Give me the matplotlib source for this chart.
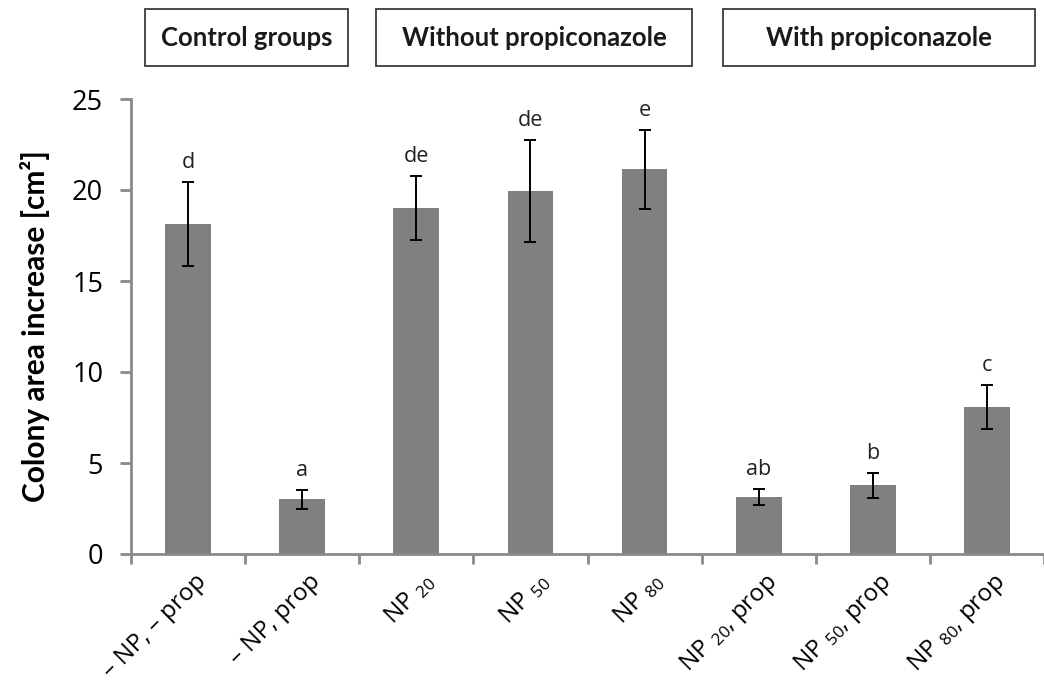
import matplotlib
matplotlib.use("Agg")
import matplotlib.pyplot as plt
from matplotlib.patches import Rectangle
from matplotlib.transforms import ScaledTranslation

plt.rcParams['font.family'] = ['Open Sans', 'DejaVu Sans']
plt.rcParams['mathtext.fontset'] = 'custom'
plt.rcParams['mathtext.rm'] = 'Open Sans'
plt.rcParams['mathtext.it'] = 'Open Sans:italic'

groups = ['\u2013 NP, \u2013 prop', '\u2013 NP, prop',
          'NP $_{\\mathregular{20}}$', 'NP $_{\\mathregular{50}}$', 'NP $_{\\mathregular{80}}$',
          'NP $_{\\mathregular{20}}$, prop', 'NP $_{\\mathregular{50}}$, prop', 'NP $_{\\mathregular{80}}$, prop']
means = [18.15, 3.0, 19.0, 19.95, 21.13, 3.13, 3.77, 8.08]
errs = [2.3, 0.5, 1.75, 2.8, 2.15, 0.43, 0.7, 1.2]
letters = ['d', 'a', 'de', 'de', 'e', 'ab', 'b', 'c']
headers = ['Control groups', 'Without propiconazole', 'With propiconazole']

W, H = 1044, 683
fig = plt.figure(figsize=(W/100, H/100), dpi=100)
ax = fig.add_axes([131/W, (H-554)/H, 1 - 131/W, (554-99)/H])

x = list(range(len(means)))
ax.bar(x, means, width=0.4, color='#808080', yerr=errs, capsize=4,
       error_kw=dict(ecolor='black', elinewidth=1.4, capthick=1.4), zorder=2)

for i in x:
    ax.annotate(letters[i], (i, means[i] + errs[i]), xytext=(0, 14), textcoords='offset points',
                ha='center', va='center', fontsize=15.5, color='#222222')

ax.set_xlim(-0.5, -0.5 + (W - 131)/115.5)
ax.set_ylim(0, 25)
ax.set_yticks([0, 5, 10, 15, 20, 25])

gray = '#8a8a8a'
for s in ['top', 'right']:
    ax.spines[s].set_visible(False)
for s in ['left', 'bottom']:
    ax.spines[s].set_color(gray)
    ax.spines[s].set_linewidth(2)
ax.spines['left'].set_bounds(0, 25)

# ticks between categories, labels at the centres
ax.set_xticks([i - 0.5 for i in range(len(means) + 1)])
ax.set_xticklabels([])
ax.set_xticks(x, minor=True)
ax.set_xticklabels(groups, minor=True, rotation=45, ha='right', va='top',
                   rotation_mode='anchor', fontsize=17.5)
ax.tick_params(axis='x', which='major', length=7, width=2, color=gray, direction='out')
ax.tick_params(axis='x', which='minor', length=0, pad=11)
ax.tick_params(axis='y', length=8, width=2, color=gray, labelsize=19.5, pad=12)

offset = ScaledTranslation(0.06, 0, fig.dpi_scale_trans)
for lab in ax.get_xticklabels(minor=True):
    lab.set_transform(lab.get_transform() + offset)

ax.set_ylabel('Colony area increase [cm\u00b2]', family=['Lato', 'DejaVu Sans'],
              fontweight='bold', fontsize=21.5, labelpad=16)

# group header boxes
boxes = [(145, 348), (376, 692), (723, 1035)]
for (x0, x1), txt in zip(boxes, headers):
    fig.patches.append(Rectangle((x0/W, 1 - 66/H), (x1 - x0)/W, 57/H,
                                 transform=fig.transFigure, fill=False,
                                 edgecolor='#3a3a3a', linewidth=1.3))
    fig.text((x0 + x1)/2/W, 1 - 38.5/H, txt, ha='center', va='center',
             family=['Lato', 'DejaVu Sans'], fontweight='bold', fontsize=18.5, color='#1a1a1a')

fig.savefig('out.png', dpi=100)
